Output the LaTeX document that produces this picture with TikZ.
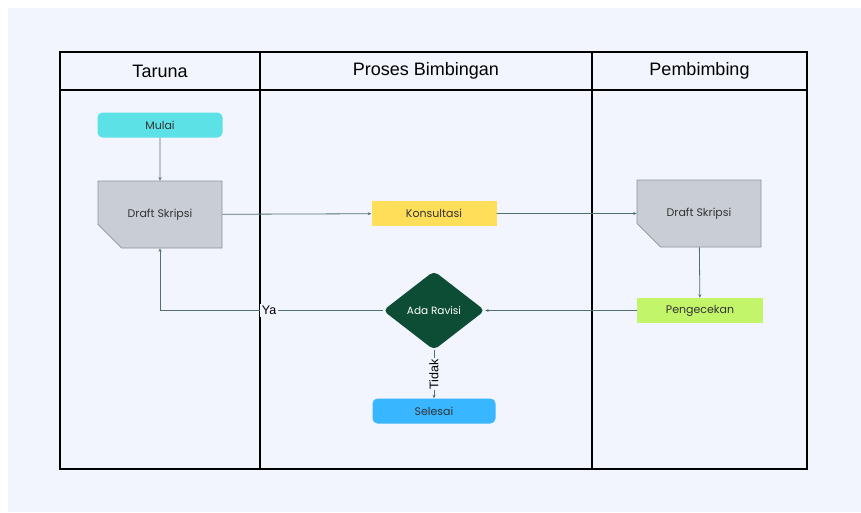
\documentclass[tikz,border=0pt]{standalone}
\usepackage{fontspec}
\setmainfont{Poppins}
\newfontfamily\lanefont{Liberation Sans}
\usetikzlibrary{arrows.meta,shapes.geometric,shapes.misc,positioning}

\definecolor{bgpage}{HTML}{F2F5FD}
\definecolor{mulaicol}{HTML}{5CE1E6}
\definecolor{draftgray}{HTML}{C9CED6}
\definecolor{draftedge}{HTML}{8C939A}
\definecolor{konsulcol}{HTML}{FFDE59}
\definecolor{cekcol}{HTML}{C3F56A}
\definecolor{revcol}{HTML}{0D4D35}
\definecolor{selesaicol}{HTML}{38B6FF}
\definecolor{linecol}{HTML}{52706F}

\tikzset{
  frame/.style={line width=2.8pt, black},
  lane/.style={font=\lanefont\fontsize{18}{21}\selectfont},
  box/.style={minimum width=125pt, minimum height=25pt, inner sep=0pt, font=\fontsize{11}{13}\selectfont, text=black!80},
  terminal/.style={box, rounded corners=5pt},
  draft/.style={chamfered rectangle, chamfered rectangle corners=south west, chamfered rectangle xsep=20pt, chamfered rectangle ysep=18pt, fill=draftgray, draw=draftedge, line width=0.6pt, minimum width=124pt, minimum height=67pt, inner sep=0pt, font=\fontsize{11}{13}\selectfont, text=black!80},
  decide/.style={diamond, aspect=1.3, minimum width=102pt, minimum height=79pt, inner sep=0pt, fill=revcol, rounded corners=5pt, text=white, font=\fontsize{10.5}{12}\selectfont},
  link/.style={draw=linecol, line width=0.8pt, -{Stealth[length=3.5pt,width=3pt]}},
  tag/.style={fill=bgpage, inner sep=2pt, font=\lanefont\fontsize{12.5}{14}\selectfont}
}

\begin{document}
\begin{tikzpicture}[x=1pt,y=-1pt]
\useasboundingbox (0,0) rectangle (861,512);
\fill[white] (0,0) rectangle (861,512);
\fill[bgpage] (8,8) rectangle (861,512);

\draw[frame] (60,52) rectangle (807,469);
\draw[frame] (60,90) -- (807,90);
\draw[frame] (260,52) -- (260,469);
\draw[frame] (592,52) -- (592,469);

\node[lane] (taruna) at (160,71) {Taruna};
\node[lane] (proses) at (426,71) {Proses Bimbingan};
\node[lane] (pembimbing) at (699.5,71) {Pembimbing};

\node[terminal, fill=mulaicol] (mulai) at (160,125) {Mulai};
\node[draft] (draftA) at (160,214.5) {Draft Skripsi};
\node[box, fill=konsulcol] (konsul) at (434,213.5) {Konsultasi};
\node[draft] (draftB) at (699,213.5) {Draft Skripsi};
\node[box, minimum width=126pt, fill=cekcol] (cek) at (700,310.5) {Pengecekan};
\node[decide] (ada) at (434,310.5) {Ada Ravisi};
\node[terminal, minimum width=123pt, fill=selesaicol] (selesai) at (434,411) {Selesai};

\draw[link] (mulai) -- (draftA);
\draw[link] (draftA) -- (konsul);
\draw[link] (konsul) -- (draftB);
\draw[link] (draftB) -- (cek);
\draw[link] (cek) -- (ada);
\draw[link] (ada.west) -- node[tag, pos=0.51] {Ya} (ada.west -| draftA) -- (draftA);
\draw[link] (ada.south) -- node[tag, rotate=90, inner sep=1pt] {Tidak} (ada.south |- selesai.north);
\end{tikzpicture}
\end{document}
